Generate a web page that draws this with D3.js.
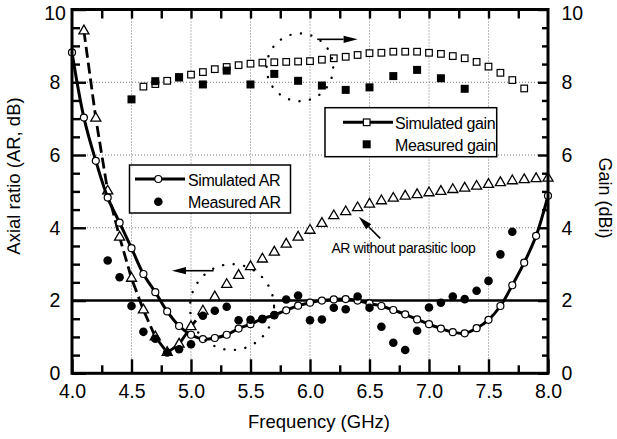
<!DOCTYPE html>
<html>
<head>
<meta charset="utf-8">
<script src="https://cdn.jsdelivr.net/npm/d3@7"></script>
<style>
  html, body { margin: 0; padding: 0; background: #fff; }
  svg { display: block; font-family: "Liberation Sans", Arial, Helvetica, sans-serif; }
  .tick text { font-size: 19.5px; fill: #000; }
  .tick line { stroke: #000; stroke-width: 2.4; }
  .grid { stroke: #777; stroke-width: 1; stroke-dasharray: 1 2; }
</style>
</head>
<body>
<div id="chart"></div>
<script>
// [frequency (GHz), value]
const simAR = [
  [4.0, 8.82], [4.1, 7.03], [4.2, 5.84], [4.3, 4.83], [4.4, 4.14], [4.5, 3.44],
  [4.6, 2.73], [4.7, 2.23], [4.8, 1.70], [4.9, 1.30], [5.0, 1.06], [5.1, 0.94],
  [5.2, 0.97], [5.3, 1.06], [5.4, 1.23], [5.5, 1.35], [5.6, 1.50], [5.7, 1.60],
  [5.8, 1.73], [5.9, 1.86], [6.0, 1.94], [6.1, 2.00], [6.2, 2.03], [6.3, 2.04],
  [6.4, 2.00], [6.5, 1.92], [6.6, 1.85], [6.7, 1.74], [6.8, 1.62], [6.9, 1.48],
  [7.0, 1.35], [7.1, 1.23], [7.2, 1.13], [7.3, 1.10], [7.4, 1.24], [7.5, 1.47],
  [7.6, 1.85], [7.7, 2.42], [7.8, 3.04], [7.9, 3.78], [8.0, 4.88],
];
const measAR = [
  [4.3, 3.10], [4.4, 2.64], [4.5, 1.85], [4.6, 1.14], [4.7, 0.95], [4.8, 0.57],
  [4.9, 0.66], [5.0, 0.80], [5.1, 1.58], [5.2, 1.72], [5.3, 1.83], [5.4, 1.46],
  [5.5, 1.47], [5.6, 1.49], [5.7, 1.60], [5.8, 2.03], [5.9, 2.14], [6.0, 1.46],
  [6.1, 1.48], [6.2, 1.80], [6.3, 1.76], [6.4, 2.11], [6.5, 1.80], [6.6, 1.28],
  [6.7, 0.84], [6.8, 0.64], [6.9, 1.17], [7.0, 1.81], [7.1, 1.94], [7.2, 2.11],
  [7.3, 2.04], [7.4, 2.27], [7.5, 2.54], [7.6, 3.27], [7.7, 3.89],
];
// AR without parasitic loop
const noLoopAR = [
  [4.1, 9.41], [4.2, 7.01], [4.3, 5.01], [4.4, 3.74], [4.5, 2.61], [4.6, 1.74],
  [4.7, 1.00], [4.8, 0.57], [4.9, 0.80], [5.0, 1.28], [5.1, 1.71], [5.2, 2.10],
  [5.3, 2.44], [5.4, 2.69], [5.5, 2.93], [5.6, 3.14], [5.7, 3.33], [5.8, 3.55],
  [5.9, 3.74], [6.0, 3.93], [6.1, 4.12], [6.2, 4.33], [6.3, 4.44], [6.4, 4.55],
  [6.5, 4.65], [6.6, 4.74], [6.7, 4.81], [6.8, 4.87], [6.9, 4.91], [7.0, 4.96],
  [7.1, 5.00], [7.2, 5.05], [7.3, 5.09], [7.4, 5.14], [7.5, 5.19], [7.6, 5.24],
  [7.7, 5.29], [7.8, 5.32], [7.9, 5.35], [8.0, 5.36],
];
const noLoopLineEnd = 5.1; // dashed fit drawn up to here
const simGain = [
  [4.6, 7.88], [4.7, 7.95], [4.8, 8.04], [4.9, 8.13], [5.0, 8.21], [5.1, 8.28],
  [5.2, 8.36], [5.3, 8.42], [5.4, 8.47], [5.5, 8.51], [5.6, 8.54], [5.7, 8.55],
  [5.8, 8.56], [5.9, 8.57], [6.0, 8.58], [6.1, 8.62], [6.2, 8.66], [6.3, 8.70],
  [6.4, 8.75], [6.5, 8.80], [6.6, 8.81], [6.7, 8.84], [6.8, 8.84], [6.9, 8.84],
  [7.0, 8.81], [7.1, 8.78], [7.2, 8.72], [7.3, 8.66], [7.4, 8.56], [7.5, 8.43],
  [7.6, 8.26], [7.7, 8.06], [7.8, 7.83],
];
const measGain = [
  [4.5, 7.53], [4.7, 8.03], [4.9, 8.14], [5.1, 7.94], [5.3, 8.32], [5.5, 7.94],
  [5.7, 8.23], [5.9, 8.04], [6.1, 7.91], [6.3, 7.79], [6.5, 7.86], [6.7, 8.17],
  [6.9, 8.34], [7.1, 8.11], [7.3, 7.82],
];

const xTicks = [4.0, 4.5, 5.0, 5.5, 6.0, 6.5, 7.0, 7.5, 8.0];
const xMinorTicks = [4.25, 4.75, 5.25, 5.75, 6.25, 6.75, 7.25, 7.75];
const xTopTicks = [4.25, 4.5, 4.75, 5.0, 5.25, 5.5, 5.75, 6.0, 6.25, 6.5, 6.75, 7.0, 7.25, 7.5, 7.75];
const yTicks = [0, 2, 4, 6, 8, 10];
const yMinorTicks = [0.5, 1, 1.5, 2.5, 3, 3.5, 4.5, 5, 5.5, 6.5, 7, 7.5, 8.5, 9, 9.5];
const xGrid = [4.5, 5.0, 5.5, 6.0, 6.5, 7.0, 7.5];
const yGrid = [4, 6, 8];
const arLimit = 2;

// annotations in data units: [f, v, radius f, radius v]
const ellipses = [[5.915, 8.41, 0.28, 0.93], [5.345, 1.82, 0.353, 1.18]];
// [from f, from v, to f, to v]
const arrows = [[6.06, 9.18, 6.40, 9.18], [5.19, 2.82, 4.84, 2.82], [6.59, 3.71, 6.41, 4.30]];
const noteText = "AR without parasitic loop";
const notePos = [6.18, 3.30];

(function () {
  const margin = { top: 9.5, right: 69, bottom: 65.7, left: 72 };
  const width = 617 - margin.left - margin.right;
  const height = 439 - margin.top - margin.bottom;

  const svgRoot = d3
    .select("#chart")
    .append("svg")
    .attr("width", 617)
    .attr("height", 439);

  const svg = svgRoot
    .append("g")
    .attr("transform", `translate(${margin.left}, ${margin.top})`);

  const x = d3.scaleLinear().domain([4, 8]).range([0, width]);
  const y = d3.scaleLinear().domain([0, 10]).range([height, 0]);
  const yGain = d3.scaleLinear().domain([0, 10]).range([height, 0]);

  // grid
  svg
    .selectAll("line.grid-x")
    .data(xGrid)
    .join("line")
    .attr("class", "grid")
    .attr("x1", (d) => x(d))
    .attr("x2", (d) => x(d))
    .attr("y1", 0)
    .attr("y2", height);
  svg
    .selectAll("line.grid-y")
    .data(yGrid)
    .join("line")
    .attr("class", "grid")
    .attr("x1", 0)
    .attr("x2", width)
    .attr("y1", (d) => y(d))
    .attr("y2", (d) => y(d));

  // 2 dB reference
  svg
    .append("line")
    .attr("x1", 0)
    .attr("x2", width)
    .attr("y1", y(arLimit))
    .attr("y2", y(arLimit))
    .style("stroke", "#000")
    .style("stroke-width", 2.6);

  // axes
  const fmtX = d3.format(".1f");
  svg
    .append("g")
    .attr("transform", `translate(0, ${height})`)
    .call(d3.axisBottom(x).tickValues(xTicks).tickFormat(fmtX).tickSize(-14).tickPadding(11))
    .call((g) => g.select(".domain").remove());
  svg
    .append("g")
    .attr("transform", `translate(0, ${height})`)
    .call(d3.axisBottom(x).tickValues(xMinorTicks).tickFormat("").tickSize(-8))
    .call((g) => g.select(".domain").remove());
  svg
    .append("g")
    .call(d3.axisTop(x).tickValues(xTopTicks).tickFormat("").tickSize(-9))
    .call((g) => g.select(".domain").remove());

  // top label "10" sits a little lower so it stays inside the page
  const nudgeTop = (g) =>
    g
      .selectAll(".tick")
      .filter((d) => d === 10)
      .select("text")
      .attr("dy", "0.52em");

  svg
    .append("g")
    .call(d3.axisLeft(y).tickValues(yTicks).tickSize(-14))
    .call((g) => g.select(".domain").remove())
    .call((g) => g.selectAll("text").attr("x", -17).attr("text-anchor", "middle"))
    .call(nudgeTop);
  svg
    .append("g")
    .call(d3.axisLeft(y).tickValues(yMinorTicks).tickFormat("").tickSize(-8))
    .call((g) => g.select(".domain").remove());

  svg
    .append("g")
    .attr("transform", `translate(${width}, 0)`)
    .call(d3.axisRight(yGain).tickValues(yTicks).tickSize(-10).tickPadding(13.5))
    .call((g) => g.select(".domain").remove())
    .call(nudgeTop);
  svg
    .append("g")
    .attr("transform", `translate(${width}, 0)`)
    .call(d3.axisRight(yGain).tickValues(yMinorTicks).tickFormat("").tickSize(-6))
    .call((g) => g.select(".domain").remove());

  // AR without parasitic loop: dashed fit + triangles
  const line = d3
    .line()
    .x((d) => x(d[0]))
    .y((d) => y(d[1]));

  svg
    .append("path")
    .datum(noLoopAR.filter((d) => d[0] <= noLoopLineEnd))
    .attr("d", line)
    .style("fill", "none")
    .style("stroke", "#000")
    .style("stroke-width", 2.8)
    .style("stroke-dasharray", "11 5");

  const tri = d3.symbol().type(d3.symbolTriangle).size(44);
  svg
    .selectAll("path.tri")
    .data(noLoopAR)
    .join("path")
    .attr("class", "tri")
    .attr("d", tri)
    .attr("transform", (d) => `translate(${x(d[0])}, ${y(d[1])})`)
    .style("fill", "#fff")
    .style("stroke", "#000")
    .style("stroke-width", 1.3);

  // simulated AR
  svg
    .append("path")
    .datum(simAR)
    .attr("d", line.curve(d3.curveCatmullRom))
    .style("fill", "none")
    .style("stroke", "#000")
    .style("stroke-width", 3);
  line.curve(d3.curveLinear);

  svg
    .selectAll("circle.sim-ar")
    .data(simAR)
    .join("circle")
    .attr("class", "sim-ar")
    .attr("cx", (d) => x(d[0]))
    .attr("cy", (d) => y(d[1]))
    .attr("r", 3.5)
    .style("fill", "#fff")
    .style("stroke", "#000")
    .style("stroke-width", 1.2);

  // measured AR
  svg
    .selectAll("circle.meas-ar")
    .data(measAR)
    .join("circle")
    .attr("class", "meas-ar")
    .attr("cx", (d) => x(d[0]))
    .attr("cy", (d) => y(d[1]))
    .attr("r", 4.3)
    .style("fill", "#000");

  // gain
  const sq = 6.6;
  svg
    .selectAll("rect.sim-gain")
    .data(simGain)
    .join("rect")
    .attr("class", "sim-gain")
    .attr("x", (d) => x(d[0]) - sq / 2)
    .attr("y", (d) => yGain(d[1]) - sq / 2)
    .attr("width", sq)
    .attr("height", sq)
    .style("fill", "#fff")
    .style("stroke", "#000")
    .style("stroke-width", 1.2);

  const sqM = 8;
  svg
    .selectAll("rect.meas-gain")
    .data(measGain)
    .join("rect")
    .attr("class", "meas-gain")
    .attr("x", (d) => x(d[0]) - sqM / 2)
    .attr("y", (d) => yGain(d[1]) - sqM / 2)
    .attr("width", sqM)
    .attr("height", sqM)
    .style("fill", "#000");

  // dotted ellipses
  svg
    .selectAll("ellipse.mark")
    .data(ellipses)
    .join("ellipse")
    .attr("class", "mark")
    .attr("cx", (d) => x(d[0]))
    .attr("cy", (d) => y(d[1]))
    .attr("rx", (d) => x(4 + d[2]) - x(4))
    .attr("ry", (d) => y(0) - y(d[3]))
    .style("fill", "none")
    .style("stroke", "#000")
    .style("stroke-width", 2.4)
    .style("stroke-linecap", "round")
    .style("stroke-dasharray", "0.1 10.5");

  // arrows
  arrows.forEach((a) => {
    const x1 = x(a[0]);
    const y1 = y(a[1]);
    const x2 = x(a[2]);
    const y2 = y(a[3]);
    const ang = Math.atan2(y2 - y1, x2 - x1);
    const len = 14;
    const half = 3.6;
    const bx = x2 - len * Math.cos(ang);
    const by = y2 - len * Math.sin(ang);
    svg
      .append("line")
      .attr("x1", x1)
      .attr("y1", y1)
      .attr("x2", bx)
      .attr("y2", by)
      .style("stroke", "#000")
      .style("stroke-width", 1.6);
    svg
      .append("path")
      .attr(
        "d",
        `M${x2},${y2}L${bx - half * Math.sin(ang)},${by + half * Math.cos(ang)}` +
          `L${bx + half * Math.sin(ang)},${by - half * Math.cos(ang)}Z`
      )
      .style("fill", "#000");
  });

  svg
    .append("text")
    .attr("x", x(notePos[0]))
    .attr("y", y(notePos[1]))
    .style("font-size", "14px")
    .style("letter-spacing", "-0.4px")
    .text(noteText);

  // legends
  const legAR = svgRoot.append("g");
  legAR
    .append("rect")
    .attr("x", 129.5)
    .attr("y", 165)
    .attr("width", 161)
    .attr("height", 48)
    .style("fill", "#fff")
    .style("stroke", "#000")
    .style("stroke-width", 1.5);
  legAR
    .append("line")
    .attr("x1", 135)
    .attr("x2", 185)
    .attr("y1", 179)
    .attr("y2", 179)
    .style("stroke", "#000")
    .style("stroke-width", 3);
  legAR
    .append("circle")
    .attr("cx", 158.3)
    .attr("cy", 179)
    .attr("r", 3.5)
    .style("fill", "#fff")
    .style("stroke", "#000")
    .style("stroke-width", 1.2);
  legAR
    .append("circle")
    .attr("cx", 158.3)
    .attr("cy", 201.7)
    .attr("r", 4.3)
    .style("fill", "#000");

  const legGain = svgRoot.append("g");
  legGain
    .append("rect")
    .attr("x", 325)
    .attr("y", 107.7)
    .attr("width", 171.7)
    .attr("height", 49)
    .style("fill", "#fff")
    .style("stroke", "#000")
    .style("stroke-width", 1.5);
  legGain
    .append("line")
    .attr("x1", 343)
    .attr("x2", 393)
    .attr("y1", 122.3)
    .attr("y2", 122.3)
    .style("stroke", "#000")
    .style("stroke-width", 3);
  legGain
    .append("rect")
    .attr("x", 366.7 - sq / 2)
    .attr("y", 122.3 - sq / 2)
    .attr("width", sq)
    .attr("height", sq)
    .style("fill", "#fff")
    .style("stroke", "#000")
    .style("stroke-width", 1.2);
  legGain
    .append("rect")
    .attr("x", 366.7 - sqM / 2)
    .attr("y", 144.3 - sqM / 2)
    .attr("width", sqM)
    .attr("height", sqM)
    .style("fill", "#000");

  const legText = [
    [legAR, 188, 185.5, "Simulated AR"],
    [legAR, 188, 207.5, "Measured AR"],
    [legGain, 395, 128.5, "Simulated gain"],
    [legGain, 395, 150.5, "Measured gain"],
  ];
  legText.forEach((t) => {
    t[0]
      .append("text")
      .attr("x", t[1])
      .attr("y", t[2])
      .style("font-size", "16px")
      .style("letter-spacing", "-0.4px")
      .text(t[3]);
  });

  // frame
  svg
    .append("rect")
    .attr("width", width)
    .attr("height", height)
    .style("fill", "none")
    .style("stroke", "#000")
    .style("stroke-width", 3);

  // axis titles
  svgRoot
    .append("text")
    .attr("text-anchor", "middle")
    .attr("x", 319)
    .attr("y", 428)
    .style("font-size", "18.5px")
    .text("Frequency (GHz)");
  svgRoot
    .append("text")
    .attr("text-anchor", "middle")
    .attr("transform", "translate(20, 176) rotate(-90)")
    .style("font-size", "18.5px")
    .text("Axial ratio (AR, dB)");
  svgRoot
    .append("text")
    .attr("text-anchor", "middle")
    .attr("transform", "translate(599, 198) rotate(90)")
    .style("font-size", "18px")
    .text("Gain (dBi)");
})();
</script>
</body>
</html>
